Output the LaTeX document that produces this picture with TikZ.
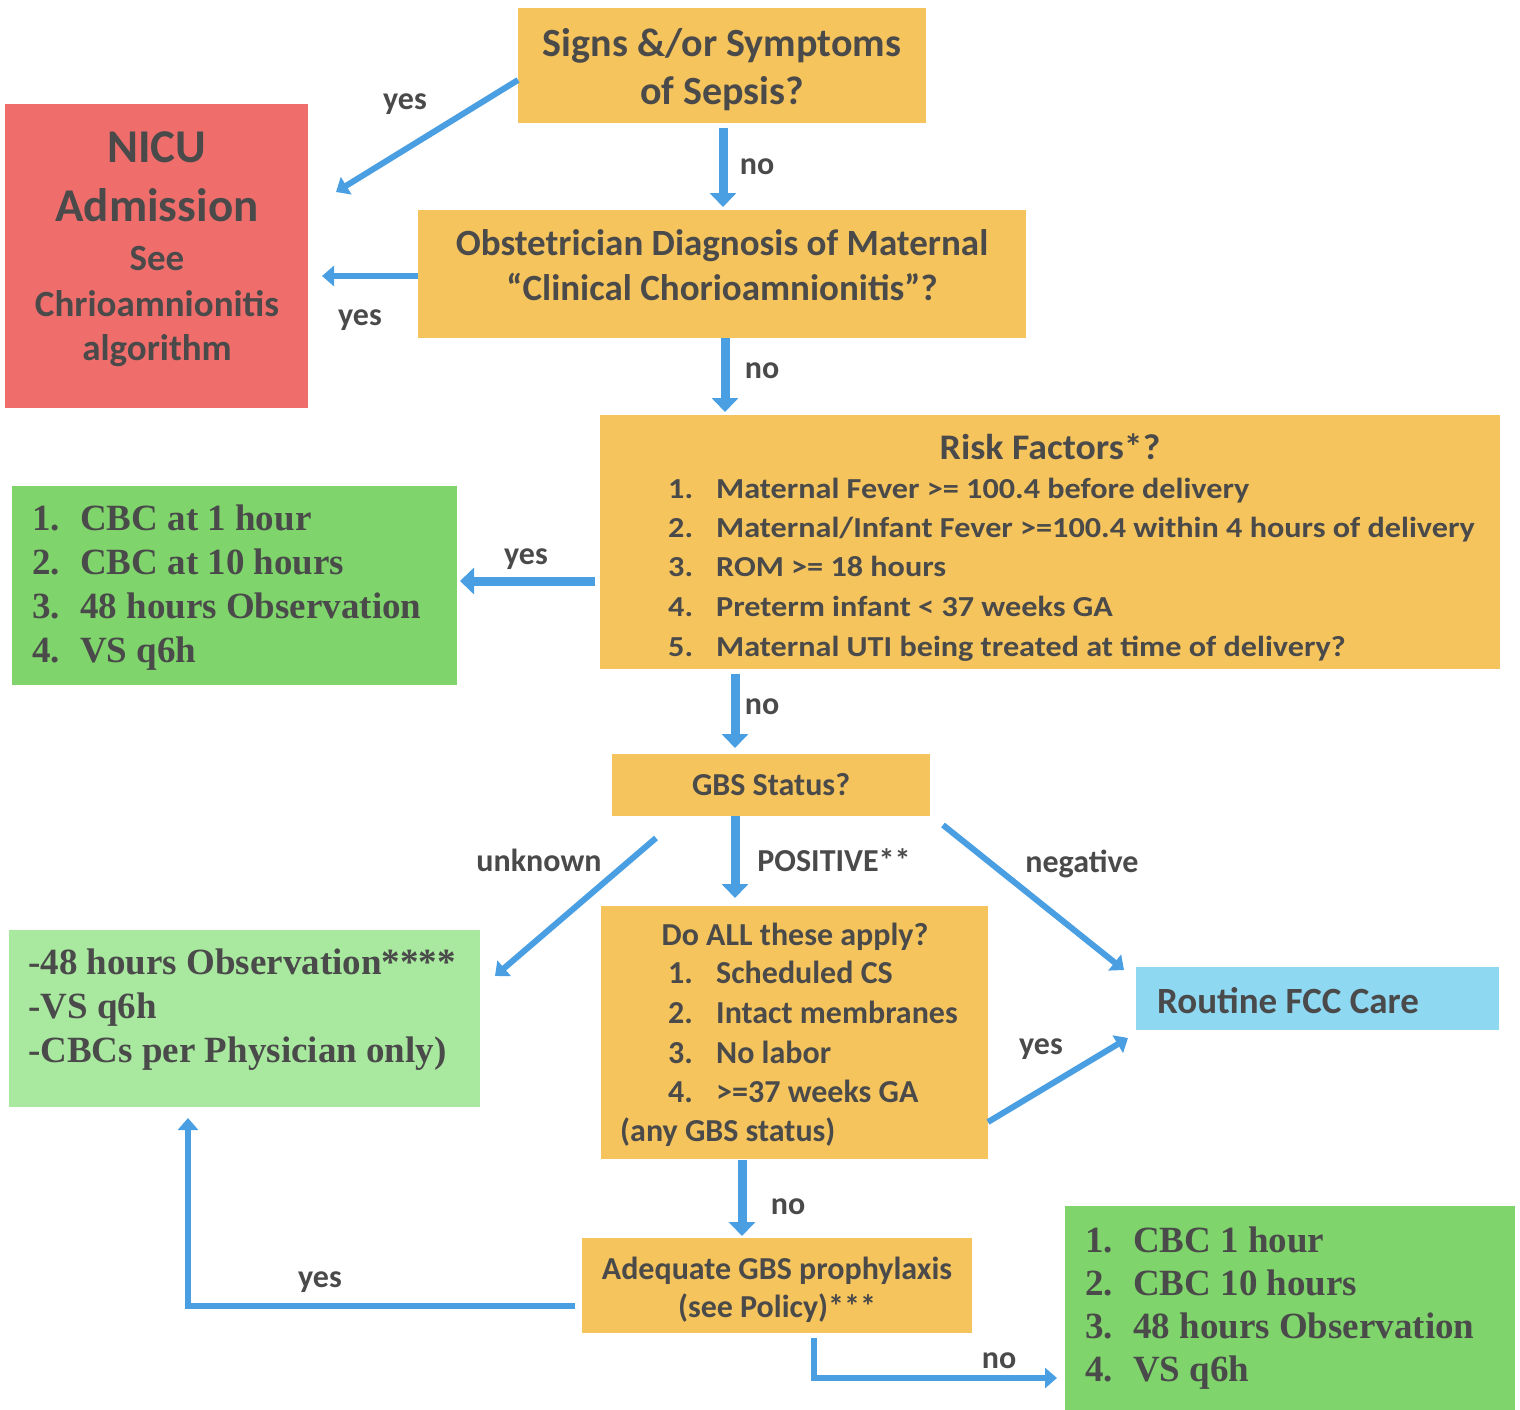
\documentclass[tikz,border=0pt]{standalone}
\usepackage{fontspec}
\setmainfont{Carlito}
\newfontfamily\tms{Liberation Serif}
\usetikzlibrary{arrows.meta,calc}
\definecolor{yfill}{HTML}{F5C45C}
\definecolor{rfill}{HTML}{EF6E6C}
\definecolor{gfill}{HTML}{7FD56B}
\definecolor{lgfill}{HTML}{A9E99F}
\definecolor{bfill}{HTML}{8ED8F2}
\definecolor{arrc}{HTML}{4A9FE2}
\definecolor{txtc}{HTML}{4A4A4A}
\newcommand{\sxr}[1]{\scalebox{1.11}[1]{#1}}
\begin{document}
\begin{tikzpicture}[x=1pt,y=-1pt,
  box/.style={inner sep=0pt, outer sep=0pt, draw=none},
  cl/.style={font=\bfseries\fontsize{#1}{#1}\selectfont, text=txtc, inner sep=0pt, anchor=base},
  cll/.style={cl=#1, anchor=base west},
  tm/.style={font=\tms\bfseries\fontsize{37}{37}\selectfont, text=txtc, inner sep=0pt, anchor=base west},
  lb/.style={cl=32},
  arr/.style={draw=arrc, line width=9pt, -{Triangle[width=26pt,length=14pt]}},
  arrl/.style={draw=arrc, line width=6pt, -{Triangle[width=20pt,length=12pt]}}
]
\useasboundingbox (0,0) rectangle (1520,1410);

% boxes
\node[box, fill=yfill, minimum width=408pt, minimum height=115pt] (sepsis) at (722,65.5) {};
\node[box, fill=rfill, minimum width=303pt, minimum height=304pt] (nicu) at (156.5,256) {};
\node[box, fill=yfill, minimum width=608pt, minimum height=128pt] (obst) at (722,274) {};
\node[box, fill=yfill, minimum width=900pt, minimum height=254pt] (risk) at (1050,542) {};
\node[box, fill=gfill, minimum width=445pt, minimum height=199pt] (green1) at (234.5,585.5) {};
\node[box, fill=yfill, minimum width=318pt, minimum height=62pt] (gbs) at (771,785) {};
\node[box, fill=yfill, minimum width=387pt, minimum height=253pt] (doall) at (794.5,1032.5) {};
\node[box, fill=lgfill, minimum width=471pt, minimum height=177pt] (lgreen) at (244.5,1018.5) {};
\node[box, fill=bfill, minimum width=363pt, minimum height=63pt] (blue) at (1317.5,998.5) {};
\node[box, fill=yfill, minimum width=390pt, minimum height=95pt] (adeq) at (777,1285.5) {};
\node[box, fill=gfill, minimum width=450pt, minimum height=204pt] (green2) at (1290,1308) {};

% texts
\node[cl=40] (s1) at (722,57) {Signs \&/or Symptoms};
\node[cl=40] (s2) at (722,105) {of Sepsis?};

\node[cl=47] (n1) at (157,162) {NICU};
\node[cl=47] (n2) at (157,221) {Admission};
\node[cl=37] (n3) at (157,270) {See};
\node[cl=37] (n4) at (157,316) {Chrioamnionitis};
\node[cl=37] (n5) at (157,360) {algorithm};

\node[cl=37] (o1) at (722,255) {Obstetrician Diagnosis of Maternal};
\node[cl=37] (o2) at (722,300) {“Clinical Chorioamnionitis”?};

\node[cl=36] (r0) at (1050,459) {\scalebox{1.05}[1]{Risk Factors*?}};
\node[cll=29] (rn1) at (668,498) {\sxr{1.}};
\node[cll=29] (rt1) at (716,498) {\sxr{Maternal Fever >= 100.4 before delivery}};
\node[cll=29] (rn2) at (668,537) {\sxr{2.}};
\node[cll=29] (rt2) at (716,537) {\sxr{Maternal/Infant Fever >=100.4 within 4 hours of delivery}};
\node[cll=29] (rn3) at (668,576) {\sxr{3.}};
\node[cll=29] (rt3) at (716,576) {\sxr{ROM >= 18 hours}};
\node[cll=29] (rn4) at (668,616) {\sxr{4.}};
\node[cll=29] (rt4) at (716,616) {\sxr{Preterm infant < 37 weeks GA}};
\node[cll=29] (rn5) at (668,656) {\sxr{5.}};
\node[cll=29] (rt5) at (716,656) {\sxr{Maternal UTI being treated at time of delivery?}};

\node[tm] (gn1) at (32,530) {1.};
\node[tm] (gt1) at (80,530) {CBC at 1 hour};
\node[tm] (gn2) at (32,574) {2.};
\node[tm] (gt2) at (80,574) {CBC at 10 hours};
\node[tm] (gn3) at (32,618) {3.};
\node[tm] (gt3) at (80,618) {48 hours Observation};
\node[tm] (gn4) at (32,662) {4.};
\node[tm] (gt4) at (80,662) {VS q6h};

\node[cl=32] (g0) at (771,795) {GBS Status?};

\node[cl=32] (d0) at (795,945) {Do ALL these apply?};
\node[cll=32] (dn1) at (668,983) {1.};
\node[cll=32] (dt1) at (716,983) {Scheduled CS};
\node[cll=32] (dn2) at (668,1023) {2.};
\node[cll=32] (dt2) at (716,1023) {Intact membranes};
\node[cll=32] (dn3) at (668,1063) {3.};
\node[cll=32] (dt3) at (716,1063) {No labor};
\node[cll=32] (dn4) at (668,1102) {4.};
\node[cll=32] (dt4) at (716,1102) {>=37 weeks GA};
\node[cll=32] (d5) at (620,1141) {(any GBS status)};

\node[tm] (l1) at (28,974) {-48 hours Observation****};
\node[tm] (l2) at (28,1018) {-VS q6h};
\node[tm] (l3) at (28,1062) {-CBCs per Physician only)};

\node[cll=37] (b1) at (1157,1013) {Routine FCC Care};

\node[cl=32] (a1) at (777,1279) {Adequate GBS prophylaxis};
\node[cl=32] (a2) at (777,1317) {(see Policy)***};

\node[tm] (hn1) at (1085,1252) {1.};
\node[tm] (ht1) at (1133,1252) {CBC 1 hour};
\node[tm] (hn2) at (1085,1295) {2.};
\node[tm] (ht2) at (1133,1295) {CBC 10 hours};
\node[tm] (hn3) at (1085,1338) {3.};
\node[tm] (ht3) at (1133,1338) {48 hours Observation};
\node[tm] (hn4) at (1085,1381) {4.};
\node[tm] (ht4) at (1133,1381) {VS q6h};

% labels
\node[lb] (y1) at (405,110) {yes};
\node[lb] (no1) at (757,175) {no};
\node[lb] (y2) at (360,325) {yes};
\node[lb] (no2) at (762,378) {no};
\node[lb] (y3) at (526,564) {yes};
\node[lb] (no3) at (762,714) {no};
\node[lb] (unk) at (539,871) {unknown};
\node[lb] (pos) at (834,871) {POSITIVE**};
\node[lb] (neg) at (1082,872) {negative};
\node[lb] (y4) at (1041,1054) {yes};
\node[lb] (no4) at (788,1214) {no};
\node[lb] (y5) at (320,1287) {yes};
\node[lb] (no5) at (999,1368) {no};

% connectors
\draw[arrl] ($(sepsis.west)+(0,14.5)$) -- ($(nicu.east)+(28,-64)$);
\draw[arr] ($(sepsis.south)+(1,5)$) -- ($(obst.north)+(1,-3)$);
\draw[arrl] ($(obst.west)+(0,2)$) -- ($(nicu.east)+(14,20)$);
\draw[arr] ($(obst.south)+(3,0)$) -- ($(risk.north west)+(125,-3)$);
\draw[arr] ($(risk.west)+(-5,39)$) -- ($(green1.east)+(3,-4.5)$);
\draw[arr] ($(risk.south west)+(135,5)$) -- ($(gbs.north west)+(123,-6)$);
\draw[arrl] ($(gbs.south west)+(44,22)$) -- ($(lgreen.east)+(15,-42.5)$);
\draw[arr] ($(gbs.south west)+(123,0)$) -- ($(doall.north west)+(134,-8)$);
\draw[arrl] ($(gbs.south east)+(13,9)$) -- ($(blue.west)+(-12,-28.5)$);
\draw[arrl] ($(doall.east)+(0,89.5)$) -- ($(blue.west)+(-8,39.5)$);
\draw[arr] ($(doall.south west)+(141,1)$) -- ($(adeq.north west)+(160,-2)$);
\draw[arrl] ($(adeq.west)+(-7,20.5)$) -| ($(lgreen.south west)+(179,11)$);
\draw[arrl] ($(adeq.south west)+(232,5)$) |- ($(green2.west)+(-8,70)$);
\end{tikzpicture}
\end{document}
